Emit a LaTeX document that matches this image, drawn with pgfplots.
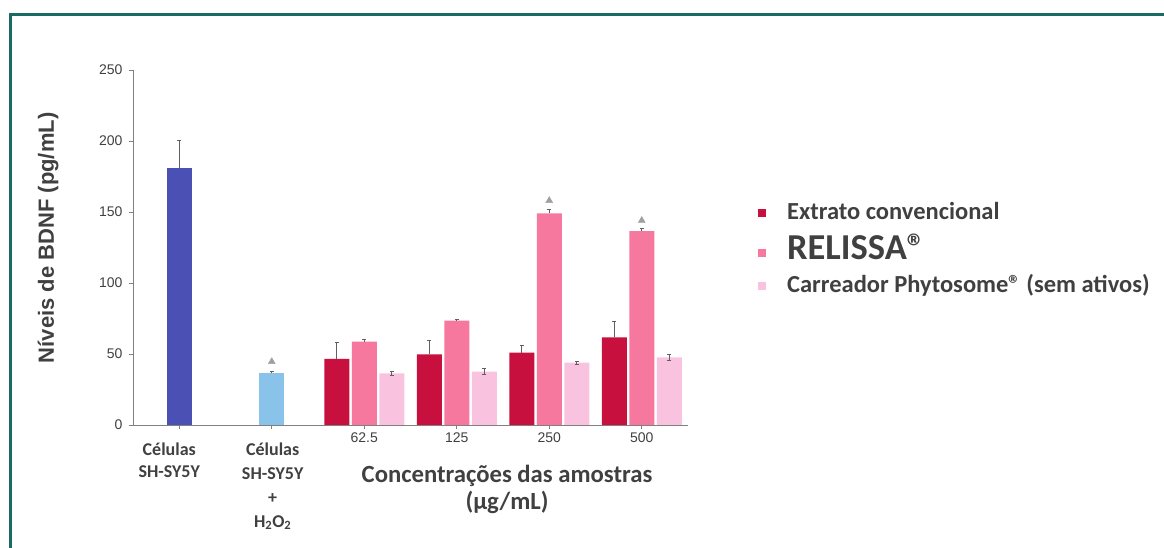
\documentclass[border=0pt]{standalone}
\usepackage{fontspec}
\setmainfont{Liberation Sans}
\newfontfamily\carlito{Carlito}
\usepackage{pgfplots}
\pgfplotsset{compat=1.18}
\definecolor{frameC}{HTML}{1A6B63}
\definecolor{cBlue}{HTML}{4A50B4}
\definecolor{cLBlue}{HTML}{8AC3E9}
\definecolor{cDark}{HTML}{C8103E}
\definecolor{cPink}{HTML}{F7789E}
\definecolor{cLPink}{HTML}{F9C3DF}
\definecolor{txt}{HTML}{404040}
\definecolor{axc}{HTML}{808080}
\definecolor{errc}{HTML}{606060}
\definecolor{triC}{HTML}{A0A0A0}
\pgfplotsset{
  errstyle/.style={error bars/.cd, y explicit,
    error bar style={errc, line width=1pt},
    error mark options={errc, line width=1pt, mark size=2pt, rotate=90}},
}
\begin{document}
\begin{tikzpicture}
\path[use as bounding box] (0,0) rectangle (1164pt,548pt);
\draw[line width=3pt, frameC] (10pt,0pt) -- (10pt,533pt) -- (1164pt,533pt);
\begin{axis}[
  at={(133pt,123pt)}, anchor=south west,
  scale only axis, width=555pt, height=355pt,
  xmin=-0.5, xmax=5.5, ymin=0, ymax=250,
  axis lines*=left,
  axis line style={axc, line width=0.8pt},
  every tick/.style={axc, line width=0.8pt},
  tick align=outside, major tick length=4pt,
  xtick={0,1,2,3,4,5},
  xticklabels={,,62.5,125,250,500},
  ytick={0,50,100,150,200,250},
  /pgf/number format/assume math mode=true,
  tick label style={font=\fontsize{14}{16}\selectfont, text=txt},
  yticklabel style={xshift=-3pt},
  ylabel={Níveis de BDNF (pg/mL)},
  ylabel style={font=\fontsize{22}{24}\selectfont\bfseries, text=txt, at={(axis description cs:-0.153,0.527)}, anchor=center},
  xlabel={Concentrações das amostras\\(µg/mL)},
  xlabel style={font=\carlito\bfseries\fontsize{24.7}{27}\selectfont, text=txt, align=center, at={(axis description cs:0.674,-0.182)}, anchor=center},
  legend style={at={(axis description cs:1.126,0.628)}, anchor=north west, draw=none, fill=none, row sep=13pt, inner sep=0pt,
    font=\carlito, text=txt, nodes={inner sep=0pt, anchor=base west}},
  legend cell align=left,
  legend image code/.code={\path[draw=none,fill=none] (0pt,0pt) -- (29pt,0pt); \fill[#1,draw=none] (0pt,2pt) rectangle (8pt,10pt);},
  clip=false,
]
% control bars
\addplot[ybar, bar width=25pt, bar shift=0pt, fill=cBlue, draw=none, forget plot,
  errstyle, y dir=plus]
  coordinates {(0,181) +- (0,19)};
\addplot[ybar, bar width=25pt, bar shift=0pt, fill=cLBlue, draw=none, forget plot,
  errstyle, y dir=plus]
  coordinates {(1,36.4) +- (0,1.5)};
% Extrato convencional
\addplot[ybar, bar width=25pt, bar shift=0pt, fill=cDark, draw=none,
  errstyle, y dir=plus]
  coordinates {(1.7027,46.5) +- (0,11.5) (2.7027,49.8) +- (0,9.6) (3.7027,51) +- (0,5) (4.7027,61.7) +- (0,11)};
\addlegendentry{\bfseries\fontsize{24.5}{26}\selectfont Extrato convencional}
% RELISSA
\addplot[ybar, bar width=25pt, bar shift=0pt, fill=cPink, draw=none,
  errstyle, y dir=plus]
  coordinates {(2,58.7) +- (0,1.3) (3,73.5) +- (0,1) (4,149) +- (0,2.5) (5,136.6) +- (0,1.5)};
\addlegendentry{\bfseries\fontsize{36.5}{38}\selectfont RELISSA®}
% Carreador
\addplot[ybar, bar width=25pt, bar shift=0pt, fill=cLPink, draw=none,
  errstyle, y dir=both]
  coordinates {(2.2973,36.4) +- (0,1.5) (3.2973,37.6) +- (0,2) (4.2973,43.9) +- (0,1) (5.2973,47.7) +- (0,2)};
\addlegendentry{\bfseries\fontsize{24.5}{26}\selectfont Carreador Phytosome® (sem ativos)}
% significance triangles
\addplot[only marks, mark=triangle*, mark size=4pt, color=triC, forget plot]
  coordinates {(1,44.6) (4,158) (5,144)};
% category labels
\node[align=center, anchor=north, font=\carlito\bfseries\fontsize{18}{22}\selectfont, text=txt] at (axis cs:-0.108,0) [yshift=-14pt] {Células\\SH-SY5Y};
\node[align=center, anchor=north, font=\carlito\bfseries\fontsize{18}{24}\selectfont, text=txt] at (axis cs:1.01,0) [yshift=-14pt] {Células\\SH-SY5Y\\+\\H\textsubscript{2}O\textsubscript{2}};
\end{axis}
\end{tikzpicture}
\end{document}
